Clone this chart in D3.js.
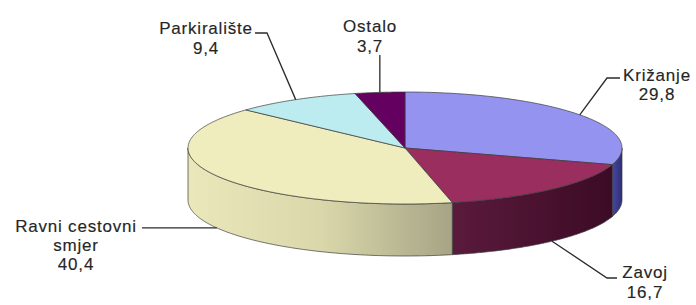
<!DOCTYPE html>
<html>
<head>
<meta charset="utf-8">
<script src="https://cdn.jsdelivr.net/npm/d3@7"></script>
<style>
  html, body { margin: 0; padding: 0; background: #fff; }
  svg { display: block; }
  text { font-family: "Liberation Sans", Arial, sans-serif; font-size: 17px; fill: #262626; letter-spacing: 0.8px; stroke: #262626; stroke-width: 0.15px; }
</style>
</head>
<body>
<svg id="chart" width="696" height="305"></svg>
<script>
// ---- data ----
const categories = ["Križanje", "Zavoj", "Ravni cestovni smjer", "Parkiralište", "Ostalo"];
const values = [29.8, 16.7, 40.4, 9.4, 3.7];
const valueLabels = ["29,8", "16,7", "40,4", "9,4", "3,7"];

// ---- styles ----
const topColors = ["#9494f0", "#9a2f5f", "#efecbd", "#bcecf0", "#640060"];
const sideStops = [
  ["#4848a0", "#2e2e78"],
  ["#5a1a3c", "#3c0b25"],
  ["#eae8ba", "#dad8aa", "#a6a485"],
  ["#a0c8cc", "#80a8ac"],
  ["#4a0046", "#3a0038"]
];

// ---- layout ----
const W = 696, H = 305;
const cx = 405, cy = 148, rx = 217, ry = 56, depth = 52;
const labelLayout = [
  { x: 657, y: 81, lh: 19, elbow: [607, 78], end: [620, 78] },
  { x: 645, y: 278, lh: 20, elbow: [607, 278], end: [617, 278] },
  { x: 76, y: 232, lh: 19, elbow: null, end: [142, 227] },
  { x: 206, y: 34, lh: 20, elbow: [267, 33], end: [255, 33] },
  { x: 370, y: 32, lh: 20, elbow: null, end: [380, 55] }
];

const svg = d3.select("#chart");
const defs = svg.append("defs");

const xs = d3.scaleLinear().domain([-1, 1]).range([cx - rx, cx + rx]);
const ys = d3.scaleLinear().domain([-1, 1]).range([cy + ry, cy - ry]);

const pie = d3.pie().sort(null).value(d => d).startAngle(0).endAngle(2 * Math.PI);
const arcs = pie(values);

function pt(a, dz) { return [xs(Math.sin(a)), ys(Math.cos(a)) + (dz || 0)]; }
function arcPts(a0, a1, dz) {
  const n = Math.max(2, Math.ceil(Math.abs(a1 - a0) / 0.01));
  const out = [];
  for (let i = 0; i <= n; i++) out.push(pt(a0 + (a1 - a0) * i / n, dz));
  return out;
}
const line = d3.line();

// sides (front half only)
const sides = svg.append("g");
arcs.forEach((d, i) => {
  const s0 = Math.max(d.startAngle, Math.PI / 2);
  const s1 = Math.min(d.endAngle, 3 * Math.PI / 2);
  if (s0 >= s1) return;
  const topE = arcPts(s0, s1, 0);
  const botE = arcPts(s1, s0, depth);
  const xa = d3.min(topE, p => p[0]), xb = d3.max(topE, p => p[0]);
  const g = defs.append("linearGradient").attr("id", "side" + i)
    .attr("gradientUnits", "userSpaceOnUse")
    .attr("x1", xa).attr("x2", xb).attr("y1", 0).attr("y2", 0);
  const st = sideStops[i];
  st.forEach((c, k) => g.append("stop").attr("offset", k / (st.length - 1)).attr("stop-color", c));
  sides.append("path")
    .attr("d", line(topE.concat(botE)) + "Z")
    .attr("fill", `url(#side${i})`)
    .attr("stroke", "#3a3a3a").attr("stroke-width", 0.7).attr("stroke-linejoin", "round");
});

// tops
const tops = svg.append("g");
arcs.forEach((d, i) => {
  const pts = [[cx, cy]].concat(arcPts(d.startAngle, d.endAngle, 0));
  tops.append("path")
    .attr("d", line(pts) + "Z")
    .attr("fill", topColors[i])
    .attr("stroke", "#3a3a3a").attr("stroke-width", 0.7).attr("stroke-linejoin", "round");
});

// labels and leader lines
const lbl = svg.append("g");
arcs.forEach((d, i) => {
  const mid = (d.startAngle + d.endAngle) / 2;
  const front = Math.cos(mid) < 0;
  const anchor = pt(mid, front ? depth : 0);
  const L = labelLayout[i];
  const pts = [anchor];
  if (L.elbow) pts.push(L.elbow);
  if (i === 2) pts.push([L.end[0], anchor[1]]);
  else if (i === 4) pts.push([anchor[0], L.end[1]]);
  else pts.push(L.end);
  lbl.append("path").attr("d", line(pts))
    .attr("fill", "none").attr("stroke", "#2b2b2b").attr("stroke-width", 1.3);

  let name = categories[i];
  let lines = [name];
  if (name.length > 15) {
    const k = name.lastIndexOf(" ");
    lines = [name.slice(0, k), name.slice(k + 1)];
  }
  lines.push(valueLabels[i]);
  const t = lbl.append("text").attr("text-anchor", "middle");
  lines.forEach((s, k) => t.append("tspan").attr("x", L.x).attr("y", L.y + k * L.lh).text(s));
});
</script>
</body>
</html>
